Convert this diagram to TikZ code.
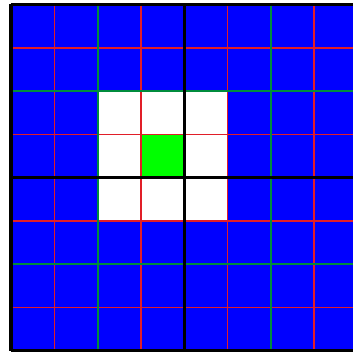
\documentclass[tikz,border=0pt]{standalone}
\definecolor{gblue}{RGB}{0,0,255}
\definecolor{ggreen}{RGB}{0,255,0}
\definecolor{lgreen}{RGB}{0,140,60}
\definecolor{lred}{RGB}{225,30,40}
\begin{document}
\begin{tikzpicture}[
  redline/.style={draw=lred, line width=1pt},
  greenline/.style={draw=lgreen, line width=1.4pt},
  blackline/.style={draw=black, line width=2pt},
]
\useasboundingbox (-0.254,-0.023) rectangle (7.898,8.104);
\begin{scope}
\clip (-0.254,-0.023) rectangle (7.898,8.104);
\fill[gblue] (0,0) rectangle (8,8);
\fill[white] (2,3) rectangle (5,6);
\fill[ggreen] (3,4) rectangle (4,5);
\foreach \i in {1,3,5,7} {
  \draw[redline] (\i,0) -- (\i,8);
  \draw[redline] (0,\i) -- (8,\i);
}
\foreach \i in {2,6} {
  \draw[greenline] (\i,0) -- (\i,8);
  \draw[greenline] (0,\i) -- (8,\i);
}
\foreach \i in {0,4,8} {
  \draw[blackline] (\i,0) -- (\i,8);
  \draw[blackline] (0,\i) -- (8,\i);
}
\end{scope}
\end{tikzpicture}
\end{document}
